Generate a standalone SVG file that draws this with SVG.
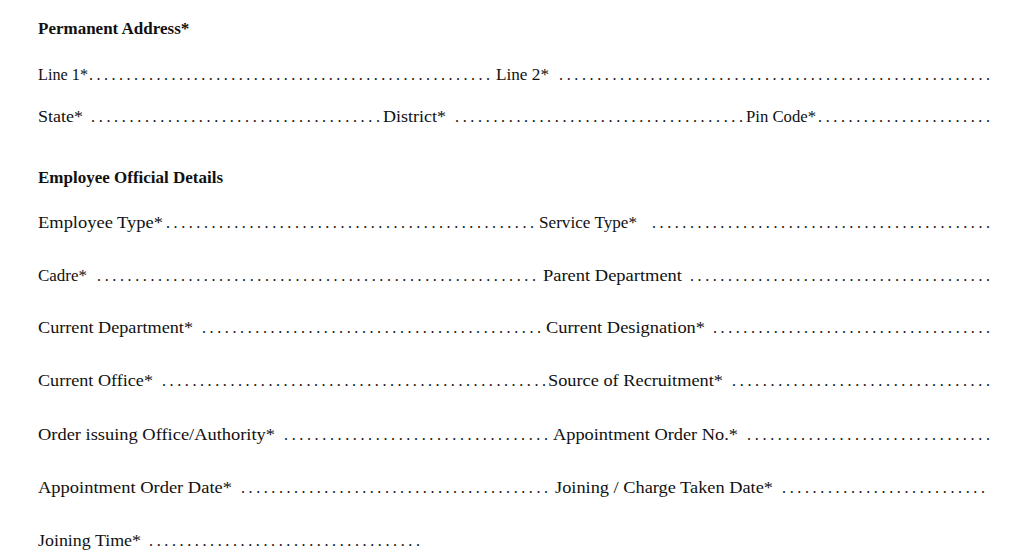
<svg xmlns="http://www.w3.org/2000/svg" width="1024" height="550" viewBox="0 0 1024 550">
<style>
text{font-family:"Liberation Serif","Times New Roman",serif;font-size:16px;fill:#111}
.h{font-weight:bold;font-size:17px}
</style>
<rect width="1024" height="550" fill="#fff"/>
<g id="permanent-address">
<text class="h" x="38" y="34">Permanent Address*</text>
<text x="38" y="80" textLength="50" lengthAdjust="spacingAndGlyphs">Line 1*</text>
<text x="89" y="80" textLength="401" lengthAdjust="spacing">......................................................</text>
<text x="496" y="80" textLength="53" lengthAdjust="spacingAndGlyphs">Line 2*</text>
<text x="559" y="80" textLength="431" lengthAdjust="spacing">.........................................................</text>
<text x="38" y="122" textLength="45" lengthAdjust="spacingAndGlyphs">State*</text>
<text x="91" y="122" textLength="289" lengthAdjust="spacing">......................................</text>
<text x="383" y="122" textLength="63" lengthAdjust="spacingAndGlyphs">District*</text>
<text x="455" y="122" textLength="288" lengthAdjust="spacing">......................................</text>
<text x="746" y="122" textLength="70" lengthAdjust="spacingAndGlyphs">Pin Code*</text>
<text x="818" y="122" textLength="172" lengthAdjust="spacing">.......................</text>
</g>
<g id="official-details">
<text class="h" x="38" y="183">Employee Official Details</text>
<text x="38" y="228" textLength="125" lengthAdjust="spacingAndGlyphs">Employee Type*</text>
<text x="166" y="228" textLength="368" lengthAdjust="spacing">.................................................</text>
<text x="539" y="228" textLength="98" lengthAdjust="spacingAndGlyphs">Service Type*</text>
<text x="652" y="228" textLength="338" lengthAdjust="spacing">.............................................</text>
<text x="38" y="281" textLength="49" lengthAdjust="spacingAndGlyphs">Cadre*</text>
<text x="97" y="281" textLength="439" lengthAdjust="spacing">..........................................................</text>
<text x="543" y="281" textLength="139" lengthAdjust="spacingAndGlyphs">Parent Department</text>
<text x="690" y="281" textLength="300" lengthAdjust="spacing">........................................</text>
<text x="38" y="333" textLength="155" lengthAdjust="spacingAndGlyphs">Current Department*</text>
<text x="202" y="333" textLength="339" lengthAdjust="spacing">.............................................</text>
<text x="546" y="333" textLength="159" lengthAdjust="spacingAndGlyphs">Current Designation*</text>
<text x="713" y="333" textLength="277" lengthAdjust="spacing">.....................................</text>
<text x="38" y="386" textLength="115" lengthAdjust="spacingAndGlyphs">Current Office*</text>
<text x="162" y="386" textLength="384" lengthAdjust="spacing">...................................................</text>
<text x="548" y="386" textLength="175" lengthAdjust="spacingAndGlyphs">Source of Recruitment*</text>
<text x="732" y="386" textLength="258" lengthAdjust="spacing">..................................</text>
<text x="38" y="440" textLength="237" lengthAdjust="spacingAndGlyphs">Order issuing Office/Authority*</text>
<text x="284" y="440" textLength="264" lengthAdjust="spacing">...................................</text>
<text x="553" y="440" textLength="185" lengthAdjust="spacingAndGlyphs">Appointment Order No.*</text>
<text x="747" y="440" textLength="243" lengthAdjust="spacing">................................</text>
<text x="38" y="493" textLength="194" lengthAdjust="spacingAndGlyphs">Appointment Order Date*</text>
<text x="241" y="493" textLength="307" lengthAdjust="spacing">.........................................</text>
<text x="555" y="493" textLength="218" lengthAdjust="spacingAndGlyphs">Joining / Charge Taken Date*</text>
<text x="782" y="493" textLength="203" lengthAdjust="spacing">...........................</text>
<text x="38" y="546" textLength="103" lengthAdjust="spacingAndGlyphs">Joining Time*</text>
<text x="149" y="546" textLength="271" lengthAdjust="spacing">....................................</text>
</g>
</svg>
